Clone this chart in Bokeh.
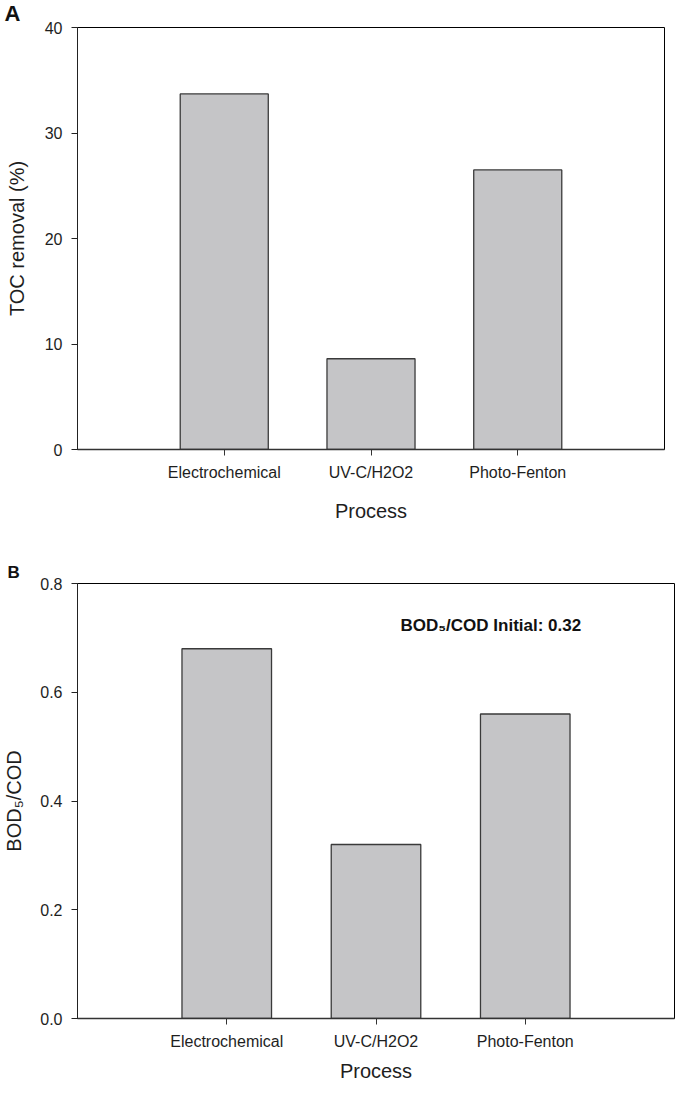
from bokeh.plotting import figure
from bokeh.models import Label, Title, FixedTicker, Range1d, NumeralTickFormatter, CustomJSTickFormatter
from bokeh.layouts import column
from bokeh.embed import file_html
from bokeh.resources import INLINE

# ---- data ----
categories = ["Electrochemical", "UV-C/H2O2", "Photo-Fenton"]
toc_removal = [33.7, 8.6, 26.5]
bod_cod = [0.68, 0.32, 0.56]
toc_ticks = [0, 10, 20, 30, 40]
bod_ticks = [0.0, 0.2, 0.4, 0.6, 0.8]
bod_cod_initial = 0.32

FONT = "Liberation Sans"
TEXT = "#1e1e1e"
BAR_FILL = "#c5c5c7"
BAR_LINE = "#3a3a3a"


def make_panel(values, ticks, fmt, ylabel, letter, letter_size, letter_offset,
               frame_w, frame_h, b_left, b_top, b_bottom, b_right,
               tick_size, ylabel_standoff, xlabel_standoff):
    n = len(categories)
    xs = list(range(1, n + 1))
    x0, x1 = 0, n + 1
    y0, y1 = ticks[0], ticks[-1]

    title = Title(text=letter, align="left", offset=letter_offset, standoff=0,
                  vertical_align="top", text_font=FONT,
                  text_font_size=f"{letter_size}px", text_font_style="bold",
                  text_color="#111111")

    p = figure(frame_width=frame_w, frame_height=frame_h,
               x_range=Range1d(x0, x1), y_range=Range1d(y0, y1),
               min_border_left=b_left, min_border_top=b_top,
               min_border_bottom=b_bottom, min_border_right=b_right,
               output_backend="svg", toolbar_location=None, title=title)
    p.background_fill_color = "white"
    p.border_fill_color = "white"
    p.outline_line_color = "black"
    p.outline_line_width = 1
    p.xgrid.visible = False
    p.ygrid.visible = False

    p.vbar(x=xs, top=values, bottom=0, width=0.6,
           fill_color=BAR_FILL, line_color=BAR_LINE, line_width=1.3)

    # x axis
    xa = p.xaxis[0]
    xa.ticker = FixedTicker(ticks=xs)
    xa.formatter = CustomJSTickFormatter(args=dict(names=categories),
                                         code="const i = Math.round(tick) - 1; return (i >= 0 && i < names.length) ? names[i] : '';")
    xa.major_tick_out = 6
    xa.major_tick_in = 0
    xa.minor_tick_out = 0
    xa.minor_tick_in = 0
    xa.major_label_standoff = 8
    xa.major_label_text_font = FONT
    xa.major_label_text_font_size = f"{tick_size}px"
    xa.major_label_text_color = TEXT
    xa.axis_line_color = "#333333"
    xa.axis_line_width = 1.5
    xa.major_tick_line_color = "#333333"
    xa.axis_label = "Process"
    xa.axis_label_text_font = FONT
    xa.axis_label_text_font_size = "20px"
    xa.axis_label_text_font_style = "normal"
    xa.axis_label_text_color = TEXT
    xa.axis_label_standoff = xlabel_standoff

    # y axis
    ya = p.yaxis[0]
    ya.ticker = FixedTicker(ticks=ticks)
    ya.formatter = NumeralTickFormatter(format=fmt)
    ya.major_tick_out = 6
    ya.major_tick_in = 0
    ya.minor_tick_out = 0
    ya.minor_tick_in = 0
    ya.major_label_standoff = 9
    ya.major_label_text_font = FONT
    ya.major_label_text_font_size = f"{tick_size}px"
    ya.major_label_text_color = TEXT
    ya.axis_line_color = "#222222"
    ya.axis_line_width = 1
    ya.major_tick_line_color = "#222222"
    ya.axis_label = ylabel
    ya.axis_label_text_font = FONT
    ya.axis_label_text_font_size = "20px"
    ya.axis_label_text_font_style = "normal"
    ya.axis_label_text_color = TEXT
    ya.axis_label_standoff = ylabel_standoff
    return p


pA = make_panel(toc_removal, toc_ticks, "0", "TOC removal (%)", "A", 22, -73,
                frame_w=587, frame_h=422, b_left=75, b_top=27,
                b_bottom=103, b_right=10, tick_size=16,
                ylabel_standoff=14, xlabel_standoff=16)

pB = make_panel(bod_cod, bod_ticks, "0.0", "BOD\u2085/COD", "B", 17, -70,
                frame_w=597, frame_h=435, b_left=74, b_top=31,
                b_bottom=64, b_right=5, tick_size=16,
                ylabel_standoff=12, xlabel_standoff=7)

# annotation of the initial ratio, in data units inside the frame
xppB = (len(categories) + 1) / 597
yppB = (bod_ticks[-1] - bod_ticks[0]) / 435
pB.add_layout(Label(x=323 * xppB, y=bod_ticks[-1] - 42 * yppB,
                    text=f"BOD\u2085/COD Initial: {bod_cod_initial:.2f}",
                    text_font=FONT, text_font_size="17px", text_font_style="bold",
                    text_color="#111111", text_align="left",
                    text_baseline="alphabetic"))

layout = column(pA, pB, spacing=0)
open("out.html", "w").write(file_html(layout, INLINE))
